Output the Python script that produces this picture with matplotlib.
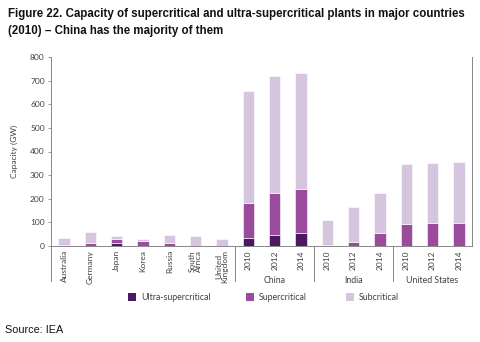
import matplotlib
matplotlib.use("Agg")
import matplotlib.pyplot as plt
import matplotlib.transforms as mtransforms
from matplotlib.patches import Rectangle
import numpy as np

# ---- data ----
tick_labels = ["Australia", "Germany", "Japan", "Korea", "Russia", "South\nAfrica", "United\nKingdom",
               "2010", "2012", "2014", "2010", "2012", "2014", "2010", "2012", "2014"]
groups = ["China", "India", "United States"]
ultra = [0, 0, 13, 0, 0, 0, 0, 35, 48, 54, 0, 0, 0, 0, 0, 0]
supercritical = [5, 14, 17, 21, 14, 0, 0, 149, 178, 186, 4, 17, 54, 94, 98, 98]
subcritical = [27, 45, 14, 7, 32, 41, 30, 474, 492, 491, 107, 146, 171, 252, 253, 256]
yticks = [0, 100, 200, 300, 400, 500, 600, 700, 800]

c_ultra = "#4b1961"
c_super = "#9a4b9c"
c_sub = "#d6c5de"
txt = "#404040"
font = "Lato"

fig = plt.figure(figsize=(4.8, 3.42), dpi=100)
ax = fig.add_axes([51/480, 1-246/342, (472-51)/480, (246-57)/342])

x = np.arange(len(tick_labels))
w = 0.43
u = np.array(ultra); s = np.array(supercritical); b = np.array(subcritical)
ax.bar(x, u, w, color=c_ultra, edgecolor="white", linewidth=0.4)
ax.bar(x, s, w, bottom=u, color=c_super, edgecolor="white", linewidth=0.4)
ax.bar(x, b, w, bottom=u+s, color=c_sub, edgecolor="white", linewidth=0.4)

ax.set_xlim(-0.5, len(tick_labels)-0.5)
ax.set_ylim(0, 800)
ax.set_yticks(yticks)
ax.set_yticklabels([str(v) for v in yticks], fontsize=6, color=txt, family=font)
ax.tick_params(axis="y", length=2.5, width=0.6, color="#888888", pad=2)
ax.set_xticks([])
ax.spines["top"].set_visible(False)
for sp in ["left", "right", "bottom"]:
    ax.spines[sp].set_color("#888888")
    ax.spines[sp].set_linewidth(0.7)
ax.set_ylabel("Capacity (GW)", fontsize=6, color=txt, family=font, labelpad=9)

trans = mtransforms.blended_transform_factory(ax.transData, ax.transAxes)
# category labels
for i, lab in enumerate(tick_labels):
    ax.text(i, -0.022, lab, transform=trans, rotation=90, ha="center", va="top",
            fontsize=6, color=txt, family=font, linespacing=0.9)
# group separators
for xs in [-0.5, 6.5, 9.5, 12.5]:
    ax.plot([xs, xs], [0, -0.185], transform=trans, color="#888888", lw=0.7, clip_on=False)
for gi, g in enumerate(groups):
    cx = 8 + 3*gi
    ax.text(cx, -0.185, g, transform=trans, ha="center", va="center",
            fontsize=6.3, color=txt, family=font)

# legend
leg_items = [("Ultra-supercritical", c_ultra, 128), ("Supercritical", c_super, 246), ("Subcritical", c_sub, 346)]
for lab, col, px in leg_items:
    fig.patches.append(Rectangle((px/480, 1-301/342), 8/480, 8/342, transform=fig.transFigure,
                                 facecolor=col, edgecolor="none"))
    fig.text((px+13)/480, 1-297/342, lab, ha="left", va="center", fontsize=6.3, color=txt, family=font)

title_font = "Liberation Sans"
fig.text(8/480, 1-14/342, "Figure 22. Capacity of supercritical and ultra-supercritical plants in major countries",
         ha="left", va="center", fontsize=8.3, fontweight="bold", family=title_font, color="#111111")
fig.text(8/480, 1-31/342, "(2010) \u2013 China has the majority of them",
         ha="left", va="center", fontsize=8.3, fontweight="bold", family=title_font, color="#111111")
fig.text(5/480, 1-330/342, "Source: IEA", ha="left", va="center", fontsize=7.8, family=title_font, color="#111111")

fig.savefig("out.png", dpi=100)
